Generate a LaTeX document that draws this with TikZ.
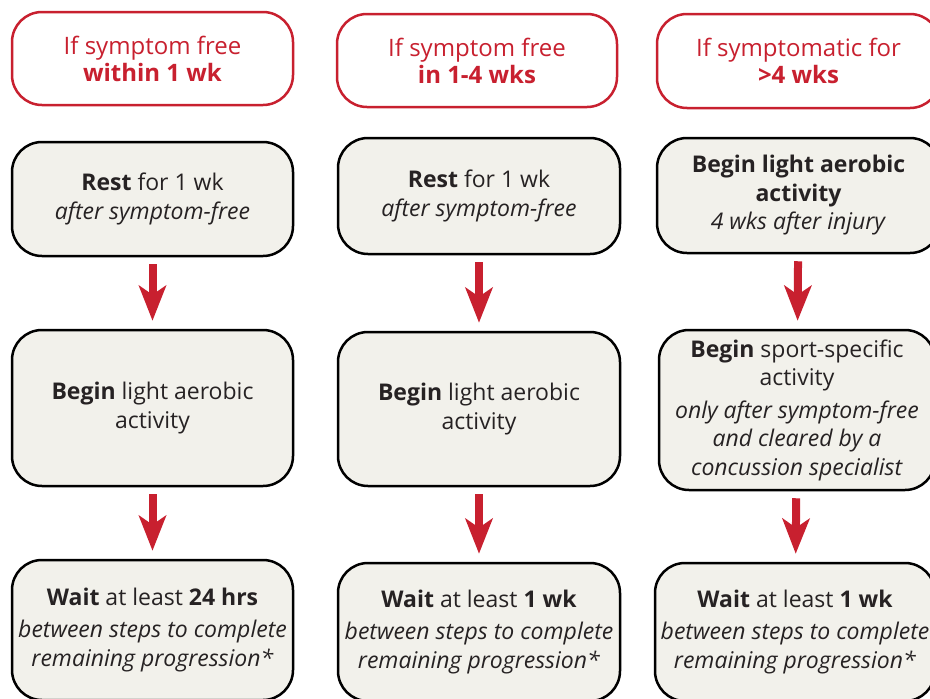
\documentclass[tikz,border=0pt]{standalone}
\usepackage{fontspec}
\setmainfont{Open Sans}
\usepackage{tikz}
\usepackage{xcolor}
\usetikzlibrary{arrows.meta,positioning}

\definecolor{cred}{HTML}{C8202F}
\definecolor{cfill}{HTML}{F2F1EB}
\definecolor{ctext}{HTML}{262223}

\begin{document}
\begin{tikzpicture}[x=1pt,y=-1pt,
    font=\fontsize{23}{28.5}\selectfont,
    headbox/.style={draw=cred,line width=2.5pt,rounded corners=30pt,fill=white,
      text=cred,align=center,inner sep=0pt,font=\fontsize{24}{27}\selectfont},
    stepbox/.style={draw=black,line width=2.5pt,rounded corners=30pt,fill=cfill,
      text=ctext,align=center,inner sep=0pt},
    down/.style={draw=cred,line width=8pt,shorten <=7pt,shorten >=8pt,
      -{Stealth[length=35pt,width=27pt,inset=9pt]}}]
  \useasboundingbox (0,0) rectangle (930,699);
  \clip (0,0) rectangle (930,699);

  % headers
  \node[headbox,minimum width=281pt,minimum height=93pt] (h1) at (152.5,58.5)
    {If symptom free\\\textbf{within 1 wk}};
  \node[headbox,minimum width=280pt,minimum height=93pt] (h2) at (477,60.5)
    {If symptom free\\\textbf{in 1-4 wks}};
  \node[headbox,minimum width=283pt,minimum height=94pt] (h3) at (798.5,61)
    {If symptomatic for\\\textbf{>4 wks}};

  % first column
  \node[stepbox,minimum width=281pt,minimum height=114pt] (a1) at (152.5,199)
    {\textbf{Rest} for 1 wk\\\textit{after symptom-free}};
  \node[stepbox,minimum width=281pt,minimum height=156pt] (a2) at (152.5,408)
    {\textbf{Begin} light aerobic\\activity};
  \node[stepbox,minimum width=281pt,minimum height=140pt] (a3) at (152.5,630)
    {\textbf{Wait} at least \textbf{24 hrs}\\[4pt]
     \textit{between steps to complete}\\\textit{remaining progression*}};

  % second column
  \node[stepbox,minimum width=282pt,minimum height=116pt] (b1) at (479,196)
    {\textbf{Rest} for 1 wk\\\textit{after symptom-free}};
  \node[stepbox,minimum width=282pt,minimum height=154pt] (b2) at (479,409)
    {\textbf{Begin} light aerobic\\activity};
  \node[stepbox,minimum width=282pt,minimum height=138pt] (b3) at (479,632)
    {\textbf{Wait} at least \textbf{1 wk}\\[4pt]
     \textit{between steps to complete}\\\textit{remaining progression*}};

  % third column
  \node[stepbox,minimum width=283pt,minimum height=115pt] (c1) at (798.5,195.5)
    {\textbf{Begin light aerobic}\\\textbf{activity}\\\textit{4 wks after injury}};
  \node[stepbox,minimum width=276pt,minimum height=160pt] (c2) at (797,410)
    {\textbf{Begin} sport-specific\\activity\\[4pt]
     \textit{only after symptom-free}\\\textit{and cleared by a}\\
     \textit{concussion specialist}};
  \node[stepbox,minimum width=280pt,minimum height=138pt] (c3) at (795,632)
    {\textbf{Wait} at least \textbf{1 wk}\\[4pt]
     \textit{between steps to complete}\\\textit{remaining progression*}};

  \draw[down] (a1) -- (a2);
  \draw[down] (a2) -- (a3);
  \draw[down] (b1) -- (b2);
  \draw[down] (b2) -- (b3);
  \draw[down] (c1) -- (c2);
  \draw[down] (c2) -- (c3);
\end{tikzpicture}
\end{document}
